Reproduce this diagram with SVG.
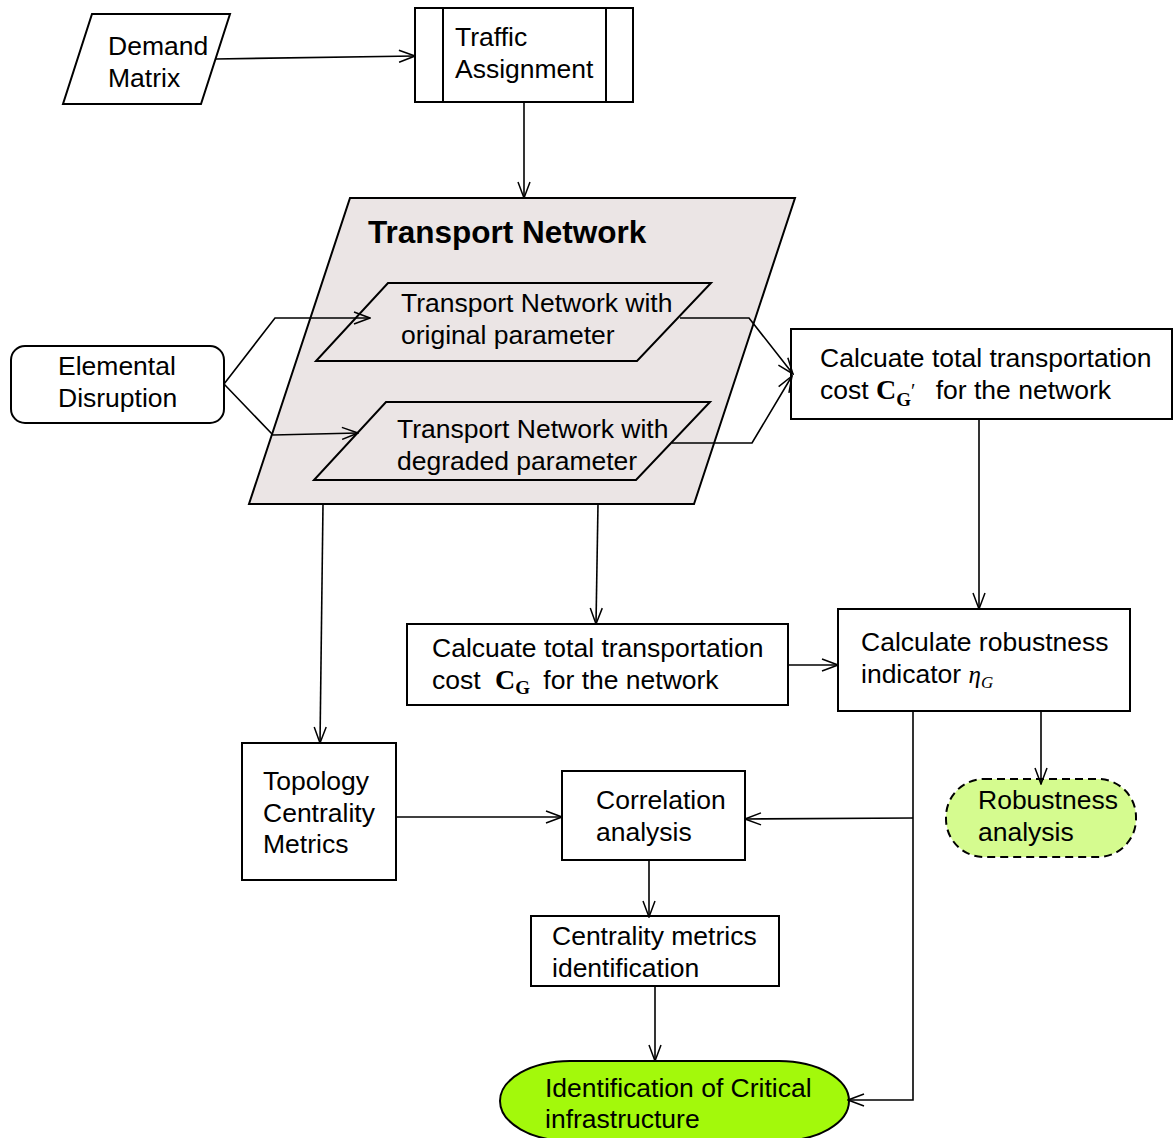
<svg xmlns="http://www.w3.org/2000/svg" width="1173" height="1138" viewBox="0 0 1173 1138">
<defs>
<marker id="arr" viewBox="0 0 18 14" refX="17" refY="7" markerWidth="18" markerHeight="14" markerUnits="userSpaceOnUse" orient="auto">
<path d="M1,1 L17,7 L1,13" fill="none" stroke="#000" stroke-width="1.5"/>
</marker>
<style>
.t{font-family:"Liberation Sans",Arial,sans-serif;font-size:26.5px;fill:#000}
.b{fill:#fff;stroke:#000;stroke-width:2}
.c{fill:none;stroke:#000;stroke-width:1.6;marker-end:url(#arr)}
.m{font-family:"Liberation Serif","Times New Roman",serif}
</style>
</defs>
<rect width="1173" height="1138" fill="#fff"/>

<g id="demand">
<polygon class="b" points="92,14 230,14 201,104 63,104"/>
<text class="t" x="108" y="55">Demand</text>
<text class="t" x="108" y="87">Matrix</text>
</g>

<g id="traffic">
<rect class="b" x="415" y="8" width="218" height="94"/>
<line x1="443" y1="8" x2="443" y2="102" stroke="#000" stroke-width="2"/>
<line x1="606" y1="8" x2="606" y2="102" stroke="#000" stroke-width="2"/>
<text class="t" x="455" y="46">Traffic</text>
<text class="t" x="455" y="78">Assignment</text>
</g>

<g id="transport">
<polygon points="350,198 795,198 694,504 249,504" fill="#ebe5e5" stroke="#000" stroke-width="2"/>
<text class="t" x="368" y="243" style="font-weight:bold;font-size:31.5px">Transport Network</text>
</g>

<g id="tn-original">
<polygon points="388,283 711,283 637,361 316,361" fill="none" stroke="#000" stroke-width="2"/>
<text class="t" x="401" y="312">Transport Network with</text>
<text class="t" x="401" y="344">original parameter</text>
</g>

<g id="tn-degraded">
<polygon points="386,402 710,402 636,480 314,480" fill="none" stroke="#000" stroke-width="2"/>
<text class="t" x="397" y="438">Transport Network with</text>
<text class="t" x="397" y="470">degraded parameter</text>
</g>

<g id="elemental">
<rect class="b" x="11" y="346" width="213" height="77" rx="14"/>
<text class="t" x="58" y="375">Elemental</text>
<text class="t" x="58" y="407">Disruption</text>
</g>

<g id="cost-gprime">
<rect class="b" x="791" y="329" width="381" height="90"/>
<text class="t" x="820" y="367">Calcuate total transportation</text>
<text class="t" x="820" y="399">cost <tspan class="m" font-weight="bold" font-size="28">C</tspan><tspan class="m" font-weight="bold" font-size="19" dy="7">G</tspan><tspan class="m" font-size="20" dy="-8">′</tspan><tspan dy="1" dx="13"> for the network</tspan></text>
</g>

<g id="cost-g">
<rect class="b" x="407" y="624" width="381" height="81"/>
<text class="t" x="432" y="657">Calcuate total transportation</text>
<text class="t" x="432" y="689">cost <tspan class="m" font-weight="bold" font-size="28" dx="7">C</tspan><tspan class="m" font-weight="bold" font-size="19" dy="5">G</tspan><tspan dy="-5" dx="6"> for the network</tspan></text>
</g>

<g id="robust-ind">
<rect class="b" x="838" y="609" width="292" height="102"/>
<text class="t" x="861" y="651">Calculate robustness</text>
<text class="t" x="861" y="683">indicator <tspan class="m" font-style="italic" font-size="25">η</tspan><tspan class="m" font-style="italic" font-size="17" dy="5">G</tspan></text>
</g>

<g id="robust-analysis">
<rect x="946" y="779" width="190" height="78" rx="38" fill="#d5fb8f" stroke="#000" stroke-width="2" stroke-dasharray="8,5"/>
<text class="t" x="978" y="809">Robustness</text>
<text class="t" x="978" y="841">analysis</text>
</g>

<g id="topology">
<rect class="b" x="242" y="743" width="154" height="137"/>
<text class="t" x="263" y="790">Topology</text>
<text class="t" x="263" y="822">Centrality</text>
<text class="t" x="263" y="853">Metrics</text>
</g>

<g id="correlation">
<rect class="b" x="562" y="771" width="183" height="89"/>
<text class="t" x="596" y="809">Correlation</text>
<text class="t" x="596" y="841">analysis</text>
</g>

<g id="centrality-id">
<rect class="b" x="531" y="916" width="248" height="70"/>
<text class="t" x="552" y="945">Centrality metrics</text>
<text class="t" x="552" y="977">identification</text>
</g>

<g id="critical">
<rect x="500" y="1061" width="349" height="80" rx="70" ry="40" fill="#a3f90b" stroke="#000" stroke-width="2"/>
<text class="t" x="545" y="1097">Identification of Critical</text>
<text class="t" x="545" y="1128">infrastructure</text>
</g>

<g id="connectors">
<path class="c" d="M215,59 L415,56"/>
<path class="c" d="M524,102 L524,198"/>
<path class="c" d="M224,384 L275,318 L370,318"/>
<path class="c" d="M224,384 L273,435 L358,433"/>
<path class="c" d="M680,318 L749,318 L793,374"/>
<path class="c" d="M672,443 L752,443 L792,376"/>
<path class="c" d="M979,419 L979,609"/>
<path class="c" d="M598,504 L596,624"/>
<path class="c" d="M323,504 L320,743"/>
<path class="c" d="M788,665 L838,665"/>
<path class="c" d="M913,711 L913,1100 L848,1100"/>
<path class="c" d="M913,818 L745,819"/>
<path class="c" d="M1041,711 L1041,784"/>
<path class="c" d="M396,817 L562,817"/>
<path class="c" d="M649,860 L649,917"/>
<path class="c" d="M655,986 L655,1061"/>
</g>
</svg>
